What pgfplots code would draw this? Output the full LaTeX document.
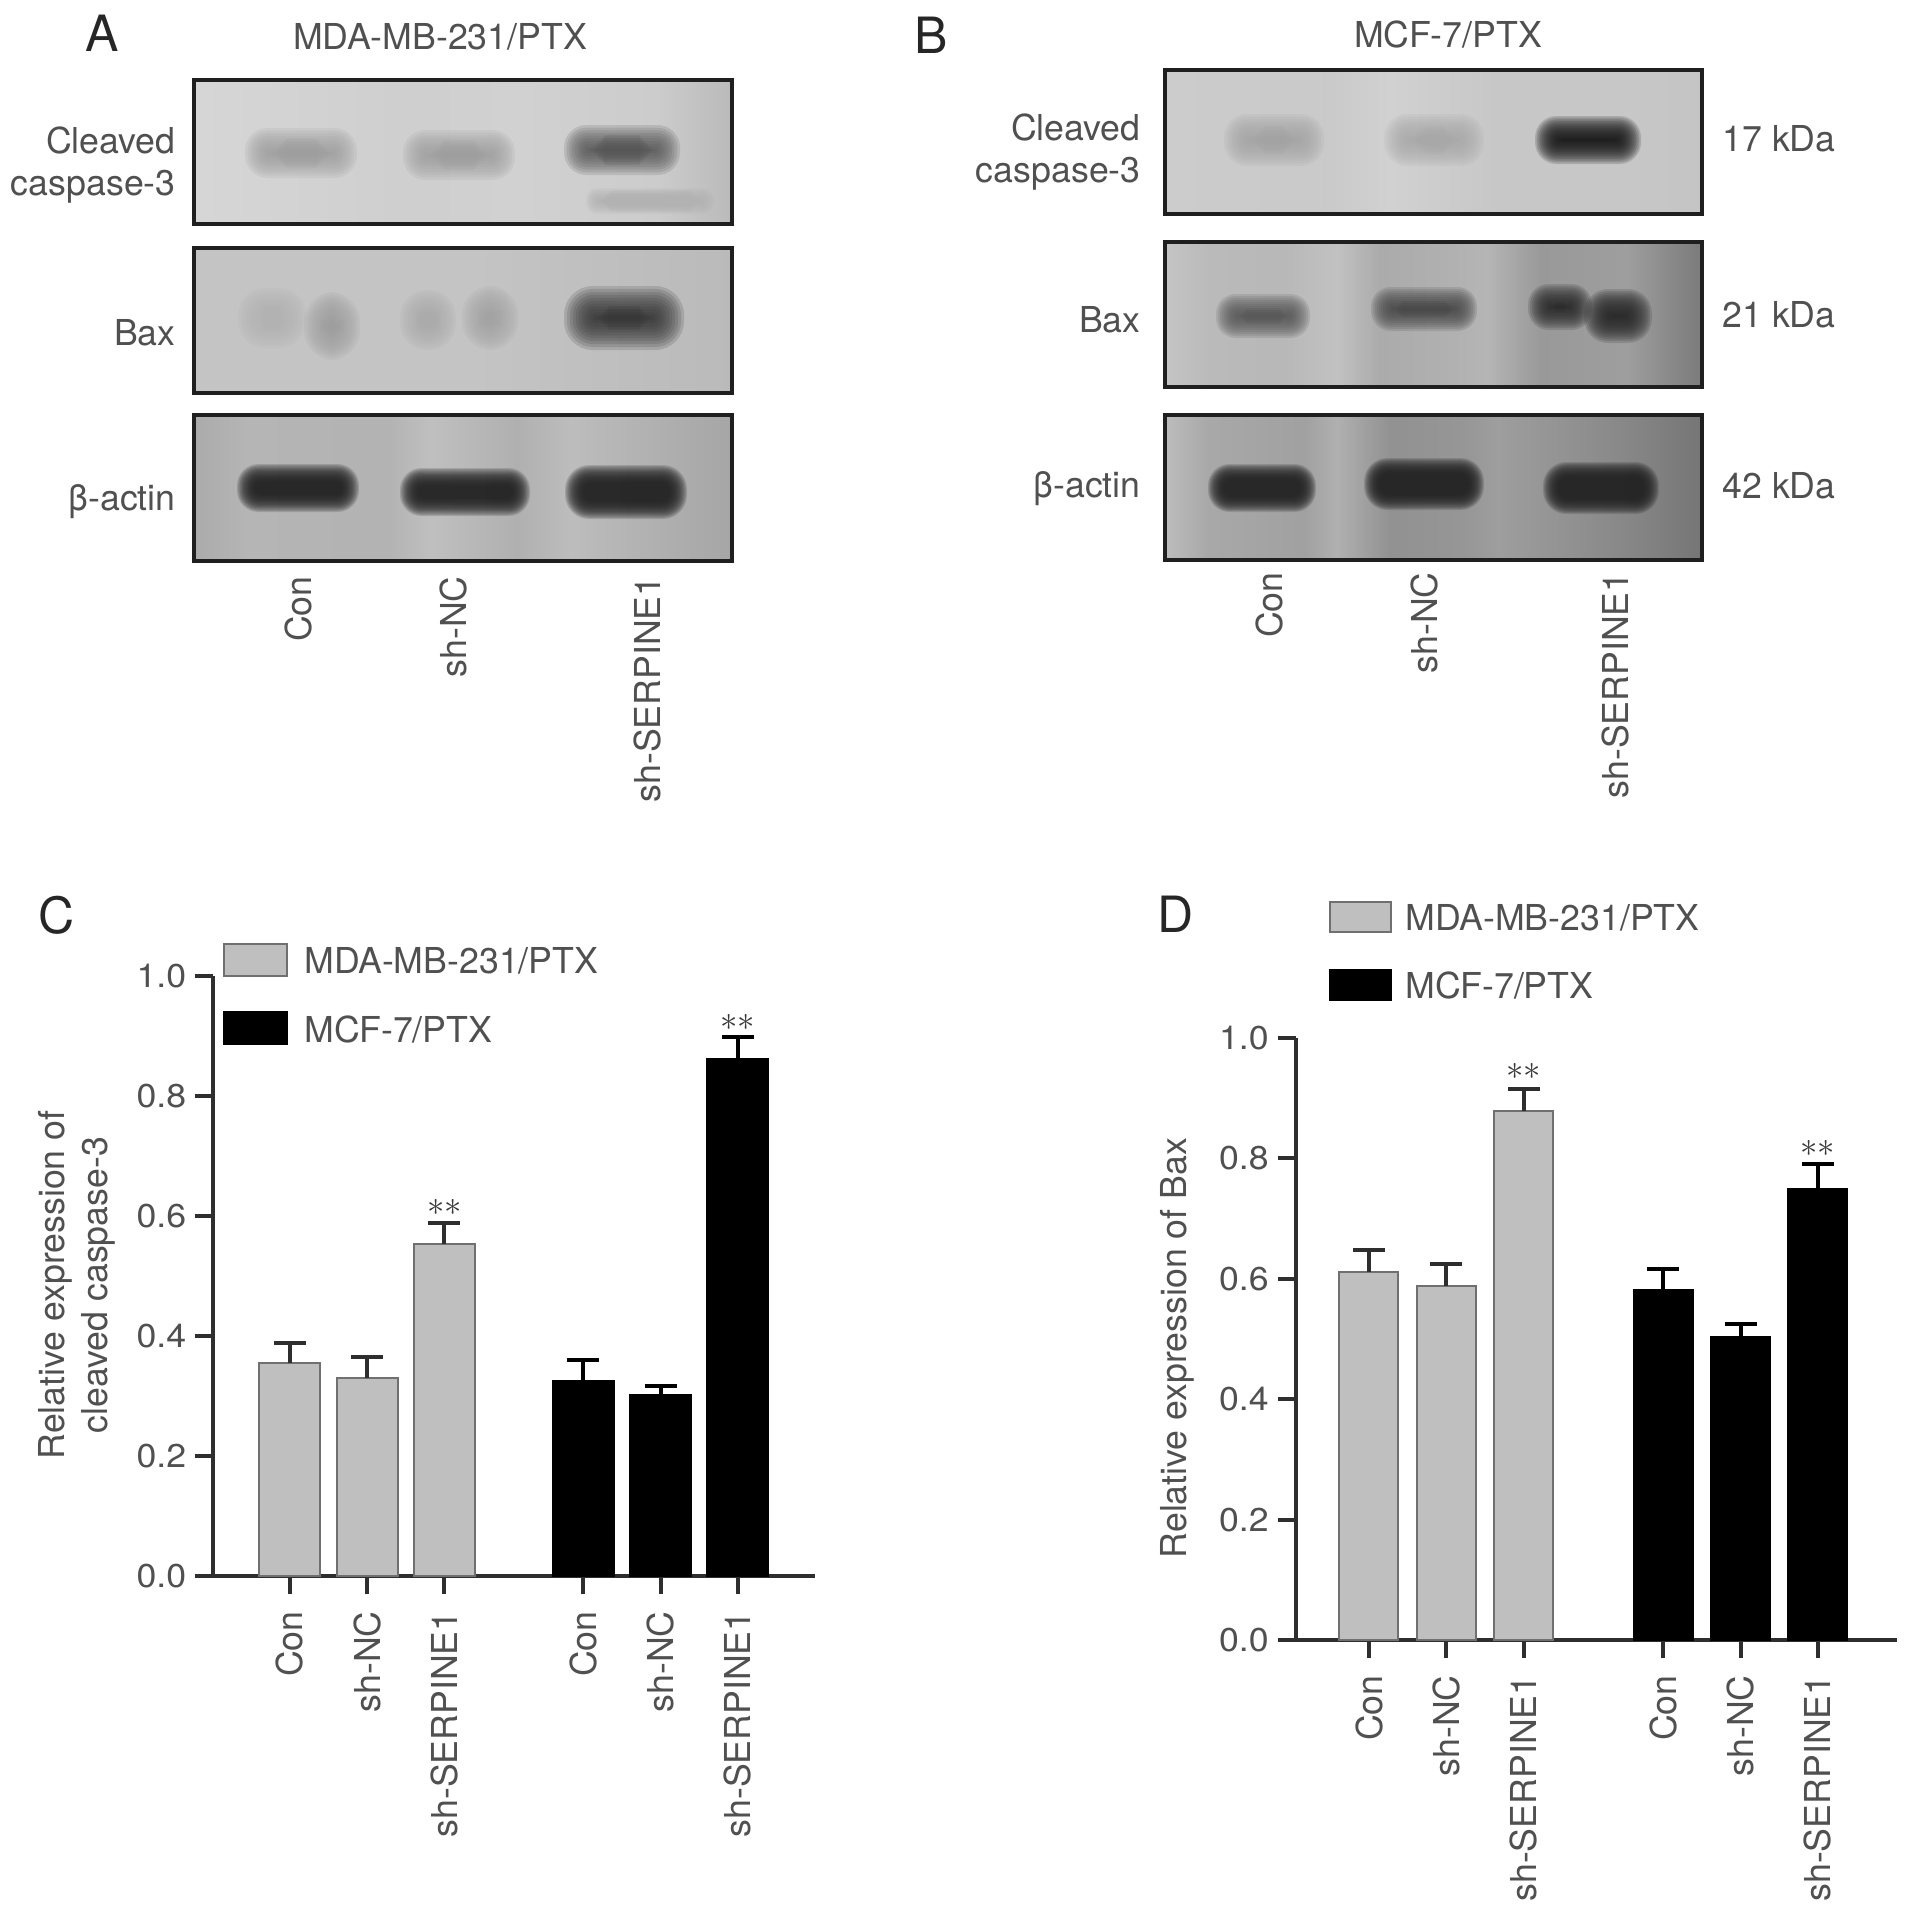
\documentclass[border=0pt]{standalone}
\usepackage{pgfplots}
\usepackage{pgfplotstable}
\usepackage{fontspec}
\pgfplotsset{compat=1.18}
\setmainfont{TeX Gyre Heros}
\definecolor{txt}{HTML}{505050}
\definecolor{ax}{HTML}{2E2E2E}
\definecolor{bargray}{HTML}{BFBFBF}
\definecolor{baredge}{HTML}{707070}
\newcommand\fs{\fontsize{17.85}{21.5}\selectfont}
\newcommand\fst{\fontsize{16.5}{20}\selectfont}

\pgfplotstableread{
x y e
0 0.355 0.033
1 0.330 0.035
2 0.553 0.035
}\Cgray
\pgfplotstableread{
x y e
3.8 0.325 0.035
4.8 0.302 0.015
5.8 0.862 0.036
}\Cblack
\pgfplotstableread{
x y e
0 0.612 0.036
1 0.588 0.037
2 0.878 0.037
}\Dgray
\pgfplotstableread{
x y e
3.8 0.582 0.035
4.8 0.503 0.022
5.8 0.750 0.040
}\Dblack

% backgrounds of the blot strips
\pgfdeclarehorizontalshading{aone}{100bp}{color(0bp)=(black!16); color(25bp)=(black!16); color(45bp)=(black!19); color(55bp)=(black!18); color(68bp)=(black!20); color(75bp)=(black!27); color(100bp)=(black!27)}
\pgfdeclarehorizontalshading{atwo}{100bp}{color(0bp)=(black!23); color(25bp)=(black!23); color(50bp)=(black!23); color(75bp)=(black!27); color(100bp)=(black!27)}
\pgfdeclarehorizontalshading{athree}{100bp}{color(0bp)=(black!33); color(25bp)=(black!33); color(30bp)=(black!29); color(43bp)=(black!30); color(47bp)=(black!25); color(55bp)=(black!31); color(60bp)=(black!26); color(68bp)=(black!31); color(75bp)=(black!35); color(100bp)=(black!35)}
\pgfdeclarehorizontalshading{bone}{100bp}{color(0bp)=(black!20); color(25bp)=(black!20); color(40bp)=(black!21); color(46bp)=(black!18); color(56bp)=(black!22); color(68bp)=(black!22); color(75bp)=(black!23); color(100bp)=(black!23)}
\pgfdeclarehorizontalshading{btwo}{100bp}{color(0bp)=(black!23); color(25bp)=(black!23); color(29bp)=(black!27); color(36bp)=(black!28); color(41bp)=(black!24); color(45bp)=(black!33); color(51bp)=(black!31); color(55bp)=(black!29); color(60bp)=(black!40); color(68bp)=(black!38); color(75bp)=(black!52); color(100bp)=(black!52)}
\pgfdeclarehorizontalshading{bthree}{100bp}{color(0bp)=(black!26); color(25bp)=(black!26); color(29bp)=(black!34); color(38bp)=(black!37); color(41bp)=(black!31); color(46bp)=(black!43); color(53bp)=(black!41); color(56bp)=(black!38); color(68bp)=(black!47); color(75bp)=(black!54); color(100bp)=(black!54)}

% a blurred band: centre x, y, half width, half height, colour, blur
\newcommand\band[6]{%
  \foreach \i in {0,...,15}{%
    \pgfmathsetmacro\ins{\i*#6*2/15}%
    \pgfmathsetmacro\rad{max(1,(#4+#6-\ins)*0.45)}%
    \fill[#5,opacity=0.17,rounded corners=\rad pt]
      ({#1-#3-#6+\ins},{#2-#4-#6+\ins}) rectangle ({#1+#3+#6-\ins},{#2+#4+#6-\ins});
  }%
}
\newcommand\strip[5]{\shade[shading=#5] (#1,#2) rectangle (#3,#4);}
\newcommand\frm[4]{\draw[line width=2.2pt,black!88] (#1,#2) rectangle (#3,#4);}

\pgfplotsset{
  barpanel/.style={
    scale only axis,
    axis x line=bottom, axis y line=left,
    axis line style={-,line width=2pt,ax},
    ymin=0,ymax=1,
    ytick={0,0.2,0.4,0.6,0.8,1.0},
    xtick={0,1,2,3.8,4.8,5.8},
    xticklabels={Con,sh-NC,sh-SERPINE1,Con,sh-NC,sh-SERPINE1},
    tick align=outside,
    major tick length=9pt,
    tick style={line width=2pt,ax},
    every tick/.append style={ax},
    /pgf/number format/assume math mode=true,
    /pgf/number format/fixed,
    /pgf/number format/fixed zerofill,
    /pgf/number format/precision=1,
    yticklabel style={font=\fst,text=txt,inner sep=0pt,xshift=-4.5pt,xscale=1.08},
    xticklabel style={font=\fs,text=txt,rotate=90,anchor=east,inner sep=0pt,xshift=-8.5pt},
    ylabel style={font=\fs,text=txt,align=center,anchor=center},
    ybar,bar width=30.5pt,bar shift=0pt,
    clip=false,
    legend cell align=left,
    legend image code/.code={\draw[#1,line width=1pt] (0pt,-8pt) rectangle (31.5pt,8pt);},
    legend style={draw=none,fill=none,inner sep=0pt,font=\fs,text=txt,
      row sep=17pt,
      /tikz/every odd column/.append style={column sep=6.2pt}},
  },
  graybar/.style={fill=bargray,draw=baredge,line width=1pt,
    error bars/.cd,y dir=plus,y explicit,
    error bar style={line width=2pt,ax},
    error mark options={rotate=90,line width=2pt,ax,mark size=8pt}},
  blackbar/.style={fill=black,draw=black,line width=1pt,
    error bars/.cd,y dir=plus,y explicit,
    error bar style={line width=2pt,black},
    error mark options={rotate=90,line width=2pt,black,mark size=8pt}},
}
\newcommand\stars{$\ast\ast$}
\tikzset{starn/.style={text=black!78,font=\fontsize{17}{17}\selectfont,inner sep=0pt}}

\begin{document}
\begin{tikzpicture}
\path[use as bounding box] (0pt,0pt) rectangle (956.5pt,-956pt);

\begin{scope}[x=0.5pt,y=-0.5pt]
% ---------- panel A ----------
\strip{194}{80}{732}{224}{aone}
\band{301}{153}{36}{5}{black!38}{20}
\band{459}{155}{36}{5}{black!38}{20}
\band{622}{150}{38}{5}{black!68}{20}
\band{650}{201}{52}{1}{black!30}{12}
\frm{194}{80}{732}{224}
\strip{194}{248}{732}{393}{atwo}
\band{272}{318}{12}{8}{black!30}{22}
\band{332}{326}{8}{14}{black!38}{20}
\band{428}{320}{8}{10}{black!33}{20}
\band{490}{318}{8}{12}{black!36}{20}
\band{624}{318}{38}{10}{black!80}{22}
\frm{194}{248}{732}{393}
\strip{194}{415}{732}{561}{athree}
\band{298}{488}{52}{15}{black!86}{9}
\band{465}{492}{56}{15}{black!86}{9}
\band{626}{492}{52}{18}{black!86}{9}
\frm{194}{415}{732}{561}
% ---------- panel B ----------
\strip{1165}{70}{1702}{214}{bone}
\band{1274}{140}{30}{6}{black!36}{20}
\band{1434}{140}{30}{6}{black!34}{20}
\band{1588}{140}{40}{11}{black!90}{13}
\frm{1165}{70}{1702}{214}
\strip{1165}{242}{1702}{387}{btwo}
\band{1263}{316}{32}{7}{black!66}{15}
\band{1424}{309}{38}{7}{black!72}{15}
\band{1560}{307}{18}{9}{black!84}{14}
\band{1618}{316}{20}{13}{black!84}{14}
\frm{1165}{242}{1702}{387}
\strip{1165}{415}{1702}{560}{bthree}
\band{1262}{488}{46}{16}{black!86}{8}
\band{1424}{484}{52}{18}{black!86}{8}
\band{1601}{488}{50}{18}{black!86}{8}
\frm{1165}{415}{1702}{560}

% ---------- texts of A and B ----------
\begin{scope}[every node/.style={text=txt,font=\fs,inner sep=0pt}]
\node[font=\fontsize{25}{25}\selectfont,text=black!85] at (102,33) {A};
\node[font=\fontsize{25}{25}\selectfont,text=black!85] at (931,35) {B};
\node[font=\fontsize{25}{25}\selectfont,text=black!85] at (57,915) {C};
\node[font=\fontsize{25}{25}\selectfont,text=black!85] at (1176,914) {D};
\node at (440,37) {MDA-MB-231/PTX};
\node at (1448,35) {MCF-7/PTX};
\node[anchor=east] at (176,140) {Cleaved};
\node[anchor=east] at (176,187) {caspase-3};
\node[anchor=east] at (176,333) {Bax};
\node[anchor=east] at (176,502) {β-actin};
\node[anchor=east] at (1141,127) {Cleaved};
\node[anchor=east] at (1141,174) {caspase-3};
\node[anchor=east] at (1141,320) {Bax};
\node[anchor=east] at (1141,489) {β-actin};
\node[anchor=west] at (1722,139) {17 kDa};
\node[anchor=west] at (1722,315) {21 kDa};
\node[anchor=west] at (1722,486) {42 kDa};
\node[rotate=90,anchor=east] at (298,576) {Con};
\node[rotate=90,anchor=east] at (453,576) {sh-NC};
\node[rotate=90,anchor=east] at (647,576) {sh-SERPINE1};
\node[rotate=90,anchor=east] at (1269,572) {Con};
\node[rotate=90,anchor=east] at (1424,572) {sh-NC};
\node[rotate=90,anchor=east] at (1615,572) {sh-SERPINE1};
\end{scope}
\end{scope}

% ---------- panel C ----------
\begin{axis}[barpanel,
  at={(106.75pt,-788pt)},anchor=south west,
  width=300.75pt,height=300pt,
  xmin=-0.99,xmax=6.797,
  ylabel={Relative expression of\\cleaved caspase-3},
  ylabel style={at={(axis description cs:-0.2275,0.485)}},
  legend style={at={(axis description cs:0.015,1.056)},anchor=north west},
]
\addplot[graybar] table[x=x,y=y,y error=e] {\Cgray};
\addlegendentry{\raisebox{-2.5pt}{MDA-MB-231/PTX}}
\addplot[blackbar] table[x=x,y=y,y error=e] {\Cblack};
\addlegendentry{\raisebox{-2.5pt}{MCF-7/PTX}}
\node[starn] at (axis cs:2,0.614) {\stars};
\node[starn] at (axis cs:5.8,0.923) {\stars};
\end{axis}

% ---------- panel D ----------
\begin{axis}[barpanel,
  at={(648pt,-820pt)},anchor=south west,
  width=300.5pt,height=301pt,
  xmin=-0.943,xmax=6.822,
  bar width=29.5pt,
  ylabel={Relative expression of Bax},
  ylabel style={at={(axis description cs:-0.197,0.485)}},
  legend image code/.code={\draw[#1,line width=1pt] (0pt,-7.5pt) rectangle (30.5pt,7.5pt);},
  legend style={at={(axis description cs:0.055,1.229)},anchor=north west,
    /tikz/every odd column/.append style={column sep=4.5pt}},
]
\addplot[graybar] table[x=x,y=y,y error=e] {\Dgray};
\addlegendentry{\raisebox{-2pt}{MDA-MB-231/PTX}}
\addplot[blackbar] table[x=x,y=y,y error=e] {\Dblack};
\addlegendentry{\raisebox{-1pt}{MCF-7/PTX}}
\node[starn] at (axis cs:2,0.945) {\stars};
\node[starn] at (axis cs:5.8,0.817) {\stars};
\end{axis}
\end{tikzpicture}
\end{document}
